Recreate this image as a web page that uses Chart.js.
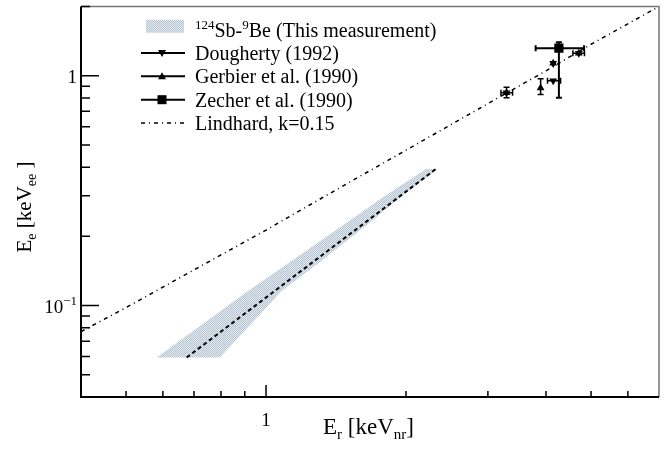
<!DOCTYPE html>
<html>
<head>
<meta charset="utf-8">
<script src="https://cdn.jsdelivr.net/npm/chart.js@4/dist/chart.umd.min.js"></script>
<style>
  html, body { margin: 0; padding: 0; background: #fff; }
</style>
</head>
<body>
<canvas id="quenchChart" width="670" height="451"></canvas>
<script>
// --- data (E_r in keVnr, E_e in keVee) ---
const bandLeft = [[0.582, 0.0594], [0.915, 0.1156], [1.13, 0.1553], [1.50, 0.2312], [1.81, 0.3015], [2.21, 0.393]];
const bandRight = [[0.796, 0.0594], [1.08, 0.1156], [1.31, 0.1553], [1.68, 0.2312], [1.97, 0.3015], [2.34, 0.393]];
const centerLine = [[0.675, 0.0594], [1.25, 0.1525], [2.32, 0.393]];

const lindhardEr = [0.4, 0.5, 0.7, 1, 1.5, 2, 3, 4, 5, 7];
const lindhardEe = [0.077, 0.098, 0.143, 0.213, 0.341, 0.474, 0.756, 1.05, 1.37, 2.0];

const doughertyEr = [3.29, 4.145, 4.145, 4.706];
const doughertyEe = [0.842, 0.951, 1.134, 1.253];
const doughertyErLo = [3.20, 4.03, 4.145, 4.57];
const doughertyErHi = [3.39, 4.30, 4.145, 4.84];

const gerbierEr = [3.29, 3.895, 4.145, 4.706];
const gerbierEe = [0.842, 0.885, 1.134, 1.253];
const gerbierEeLo = [0.801, 0.828, 1.134, 1.253];
const gerbierEeHi = [0.891, 0.971, 1.134, 1.253];

const zecherEr = [4.264];
const zecherEe = [1.317];
const zecherErLo = [3.80];
const zecherErHi = [4.83];
const zecherEeLo = [0.801];
const zecherEeHi = [1.398];

// axis ranges and ticks
const xMin = 0.4, xMax = 7;
const yMin = 0.04, yMax = 2;
const xMajorTicks = [1];
const xMinorTicks = [0.5, 0.6, 0.7, 0.8, 0.9, 2, 3, 4, 5, 6];
const xTickLabels = ['1'];
const yMajorTicks = [0.1, 1];
const yMinorTicks = [0.05, 0.06, 0.07, 0.08, 0.09, 0.2, 0.3, 0.4, 0.5, 0.6, 0.7, 0.8, 0.9, 2];
const yTickLabels = [[['10', 19, 0], ['\u22121', 13, -8]], [['1', 19, 0]]];

const legendLabels = [
    [['124', 13, -8], ['Sb-', 20, 0], ['9', 13, -8], ['Be (This measurement)', 20, 0]],
    [['Dougherty (1992)', 20, 0]],
    [['Gerbier et al. (1990)', 20, 0]],
    [['Zecher et al. (1990)', 20, 0]],
    [['Lindhard, k=0.15', 20, 0]]
];

const FONT = "'Liberation Serif', 'DejaVu Serif', serif";
const LINDHARD_DASH = [4, 4, 1, 4];

function toXY(er, ee) {
    return er.map((x, i) => ({ x: x, y: ee[i] }));
}

// light blue hatch like the ROOT fill style
function makeHatch() {
    const c = document.createElement('canvas');
    c.width = 2;
    c.height = 2;
    const g = c.getContext('2d');
    g.fillStyle = '#e3e9ee';
    g.fillRect(0, 0, 2, 2);
    g.fillStyle = '#b4c4d0';
    g.fillRect(0, 0, 1, 1);
    g.fillRect(1, 1, 1, 1);
    return g.createPattern(c, 'repeat');
}

// draw a string made of pieces [text, size, dy]
function drawRich(ctx, parts, x, y, align) {
    let total = 0;
    parts.forEach(p => {
        ctx.font = p[1] + 'px ' + FONT;
        total += ctx.measureText(p[0]).width;
    });
    let cx = x;
    if (align === 'right') cx = x - total;
    if (align === 'center') cx = x - total / 2;
    ctx.textAlign = 'left';
    ctx.textBaseline = 'alphabetic';
    parts.forEach(p => {
        ctx.font = p[1] + 'px ' + FONT;
        ctx.fillText(p[0], cx, y + p[2]);
        cx += ctx.measureText(p[0]).width;
    });
}

const hatch = makeHatch();

const rootStyle = {
    id: 'rootStyle',
    afterDatasetsDraw(chart) {
        const ctx = chart.ctx;
        const xs = chart.scales.x;
        const ys = chart.scales.y;
        const area = chart.chartArea;
        ctx.save();
        ctx.strokeStyle = '#000';
        ctx.lineWidth = 1.5;

        // error bars
        const hbar = (x1, x2, y) => {
            const py = ys.getPixelForValue(y);
            const p1 = xs.getPixelForValue(x1), p2 = xs.getPixelForValue(x2);
            ctx.beginPath();
            ctx.moveTo(p1, py); ctx.lineTo(p2, py);
            ctx.moveTo(p1, py - 3); ctx.lineTo(p1, py + 3);
            ctx.moveTo(p2, py - 3); ctx.lineTo(p2, py + 3);
            ctx.stroke();
        };
        const vbar = (x, y1, y2) => {
            const px = xs.getPixelForValue(x);
            const p1 = ys.getPixelForValue(y1), p2 = ys.getPixelForValue(y2);
            ctx.beginPath();
            ctx.moveTo(px, p1); ctx.lineTo(px, p2);
            ctx.moveTo(px - 3, p1); ctx.lineTo(px + 3, p1);
            ctx.moveTo(px - 3, p2); ctx.lineTo(px + 3, p2);
            ctx.stroke();
        };
        doughertyEr.forEach((x, i) => {
            if (doughertyErHi[i] > doughertyErLo[i]) hbar(doughertyErLo[i], doughertyErHi[i], doughertyEe[i]);
        });
        gerbierEr.forEach((x, i) => {
            if (gerbierEeHi[i] > gerbierEeLo[i]) vbar(x, gerbierEeLo[i], gerbierEeHi[i]);
        });
        ctx.lineWidth = 2;
        zecherEr.forEach((x, i) => {
            hbar(zecherErLo[i], zecherErHi[i], zecherEe[i]);
            vbar(x, zecherEeLo[i], zecherEeHi[i]);
        });

        // frame: grey top/right, black axes
        ctx.strokeStyle = '#777';
        ctx.lineWidth = 1.5;
        ctx.beginPath();
        ctx.moveTo(area.left, area.top);
        ctx.lineTo(area.right, area.top);
        ctx.lineTo(area.right, area.bottom);
        ctx.stroke();
        ctx.strokeStyle = '#000';
        ctx.lineWidth = 2;
        ctx.beginPath();
        ctx.moveTo(area.left, area.top);
        ctx.lineTo(area.left, area.bottom);
        ctx.lineTo(area.right, area.bottom);
        ctx.stroke();

        // inward tick marks
        ctx.lineWidth = 1.5;
        ctx.beginPath();
        xMajorTicks.forEach(v => {
            const px = xs.getPixelForValue(v);
            ctx.moveTo(px, area.bottom); ctx.lineTo(px, area.bottom - 12);
        });
        xMinorTicks.forEach(v => {
            const px = xs.getPixelForValue(v);
            ctx.moveTo(px, area.bottom); ctx.lineTo(px, area.bottom - 6);
        });
        yMajorTicks.forEach(v => {
            const py = ys.getPixelForValue(v);
            ctx.moveTo(area.left, py); ctx.lineTo(area.left + 18, py);
        });
        yMinorTicks.forEach(v => {
            const py = ys.getPixelForValue(v);
            ctx.moveTo(area.left, py); ctx.lineTo(area.left + 9, py);
        });
        ctx.stroke();

        // tick labels
        ctx.fillStyle = '#000';
        xMajorTicks.forEach((v, i) => {
            drawRich(ctx, [[xTickLabels[i], 19, 0]], xs.getPixelForValue(v), area.bottom + 29, 'center');
        });
        yMajorTicks.forEach((v, i) => {
            drawRich(ctx, yTickLabels[i], area.left - 4, ys.getPixelForValue(v) + 7, 'right');
        });

        // axis titles
        drawRich(ctx, [['E', 23, 0], ['r', 15, 5], [' [keV', 23, 0], ['nr', 15, 5], [']', 23, 0]], 323, 434, 'left');
        ctx.save();
        ctx.translate(31, 207);
        ctx.rotate(-Math.PI / 2);
        drawRich(ctx, [['E', 21, 0], ['e', 14, 5], [' [keV', 21, 0], ['ee', 14, 5], [' ]', 21, 0]], 0, 0, 'center');
        ctx.restore();

        // legend
        const lx1 = 141, lx2 = 185, tx = 195;
        const base = [36.7, 60, 83.3, 106.7, 130];
        ctx.fillStyle = hatch;
        ctx.fillRect(146, base[0] - 17, 38, 13);
        ctx.fillStyle = '#000';
        ctx.strokeStyle = '#000';
        ctx.lineWidth = 2;
        for (let r = 1; r <= 3; r++) {
            const ly = base[r] - 7;
            ctx.beginPath();
            ctx.moveTo(lx1, ly); ctx.lineTo(lx2, ly);
            ctx.stroke();
        }
        const mx = 162;
        // marker glyphs
        ctx.beginPath();
        let ly = base[1] - 7;
        ctx.moveTo(mx - 4, ly - 3); ctx.lineTo(mx + 4, ly - 3); ctx.lineTo(mx, ly + 4); ctx.closePath();
        ly = base[2] - 7;
        ctx.moveTo(mx - 4, ly + 3); ctx.lineTo(mx + 4, ly + 3); ctx.lineTo(mx, ly - 4); ctx.closePath();
        ctx.fill();
        ly = base[3] - 7;
        ctx.fillRect(mx - 4.5, ly - 4.5, 9, 9);
        ctx.lineWidth = 1.5;
        ctx.setLineDash(LINDHARD_DASH);
        ctx.beginPath();
        ctx.moveTo(lx1, base[4] - 7); ctx.lineTo(lx2, base[4] - 7);
        ctx.stroke();
        ctx.setLineDash([]);
        legendLabels.forEach((parts, r) => drawRich(ctx, parts, tx, base[r], 'left'));

        ctx.restore();
    }
};

const ctx = document.getElementById('quenchChart');
new Chart(ctx.getContext('2d'), {
    type: 'scatter',
    data: {
        datasets: [
            {
                label: 'Dougherty (1992)',
                data: toXY(doughertyEr, doughertyEe),
                pointStyle: 'triangle',
                rotation: 180,
                pointRadius: 4.5,
                backgroundColor: '#000',
                borderColor: '#000',
                borderWidth: 0,
                order: 1
            },
            {
                label: 'Gerbier et al. (1990)',
                data: toXY(gerbierEr, gerbierEe),
                pointStyle: 'triangle',
                pointRadius: 4.5,
                backgroundColor: '#000',
                borderColor: '#000',
                borderWidth: 0,
                order: 1
            },
            {
                label: 'Zecher et al. (1990)',
                data: toXY(zecherEr, zecherEe),
                pointStyle: 'rect',
                pointRadius: 6.5,
                backgroundColor: '#000',
                borderColor: '#000',
                borderWidth: 0,
                order: 1
            },
            {
                label: 'Lindhard, k=0.15',
                data: toXY(lindhardEr, lindhardEe),
                showLine: true,
                borderColor: '#000',
                borderWidth: 1.5,
                borderDash: LINDHARD_DASH,
                pointRadius: 0,
                tension: 0,
                order: 4
            },
            {
                label: 'center',
                data: centerLine.map(p => ({ x: p[0], y: p[1] })),
                showLine: true,
                borderColor: '#000',
                borderWidth: 2,
                borderDash: [4, 3],
                pointRadius: 0,
                tension: 0,
                order: 5
            },
            {
                label: '124Sb-9Be (This measurement)',
                data: bandLeft.concat(bandRight.slice().reverse()).map(p => ({ x: p[0], y: p[1] })),
                showLine: true,
                fill: 'shape',
                backgroundColor: hatch,
                borderWidth: 0,
                borderColor: 'rgba(0,0,0,0)',
                pointRadius: 0,
                tension: 0,
                order: 10
            }
        ]
    },
    options: {
        responsive: false,
        animation: false,
        layout: {
            padding: { left: 81, top: 3, right: 11, bottom: 54 }
        },
        plugins: {
            legend: { display: false },
            tooltip: { enabled: false }
        },
        scales: {
            x: { type: 'logarithmic', min: xMin, max: xMax, display: false },
            y: { type: 'logarithmic', min: yMin, max: yMax, display: false }
        }
    },
    plugins: [rootStyle]
});
</script>
</body>
</html>
